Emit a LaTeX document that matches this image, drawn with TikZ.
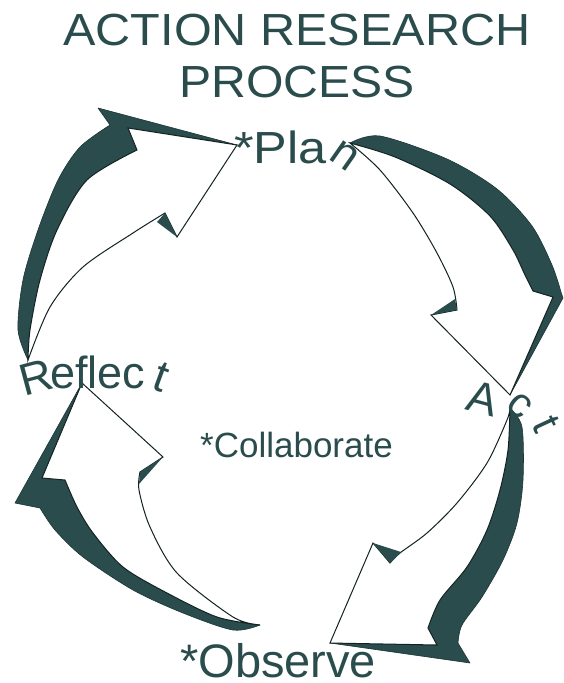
\documentclass[tikz,border=0pt]{standalone}
\usepackage{fontspec}
\setmainfont{Liberation Sans}
\usetikzlibrary{positioning}
\definecolor{Slate}{RGB}{42,76,76}

\begin{document}
\begin{tikzpicture}[x=1pt, y=-1pt,
    side/.style={fill=Slate, draw=Slate!70!black, line width=0.6pt, line join=round},
    face/.style={fill=white, draw=Slate!45!black, line width=1pt, line join=miter},
    word/.style={text=Slate, inner sep=0pt, font=\fontsize{45}{50}\selectfont}]
  \useasboundingbox (0,0) rectangle (563,683);

  % Reflect -> Plan
  \filldraw[side] plot[smooth] coordinates {(28,360) (18,330) (23,280) (38,230) (58,180) (80,147) (110,125)}
    -- (98,108) -- (237,145) -- (128,128) -- (137,150)
    -- plot[smooth] coordinates {(137,150) (87,180) (57,230) (40,280) (30,330) (28,360)} -- cycle;
  \filldraw[face] plot[smooth] coordinates {(28,360) (30,330) (40,280) (57,230) (87,180) (137,150)}
    -- (128,128) -- (237,145) -- (177,237) -- (165,213)
    -- plot[smooth] coordinates {(165,213) (133,233) (83,267) (50,307) (28,360)} -- cycle;
  \fill[Slate] (177,237) -- (165,213) -- (157,222) -- cycle;

  % Plan -> Act
  \filldraw[side] plot[smooth] coordinates {(350,143) (380,136) (447,159) (497,189) (532,226) (552,265) (561,292)}
    -- (563,298) -- (510,395) -- (553,297) -- (533,291)
    -- plot[smooth] coordinates {(533,291) (525,275) (513,250) (490,216) (450,184) (395,157) (350,143)} -- cycle;
  \filldraw[face] plot[smooth] coordinates {(350,143) (395,157) (450,184) (490,216) (513,250) (525,275) (533,291)}
    -- (553,297) -- (510,395) -- (431,315) -- (457,310)
    -- plot[smooth] coordinates {(457,310) (453,287) (437,253) (413,213) (380,170) (350,143)} -- cycle;
  \fill[Slate] (431,315) -- (457,310) -- (455,299) -- cycle;

  % Act -> Observe
  \filldraw[side] plot[smooth] coordinates {(510,408) (522,427) (523,480) (517,523) (503,560) (482,597) (462,625) (458,643)}
    -- (470,663) -- (330,643) -- (437,645) -- (428,628)
    -- plot[smooth] coordinates {(428,628) (440,600) (467,567) (487,530) (500,490) (508,450) (510,408)} -- cycle;
  \filldraw[face] plot[smooth] coordinates {(510,408) (508,450) (500,490) (487,530) (467,567) (440,600) (428,628)}
    -- (437,645) -- (330,643) -- (373,543) -- (390,563)
    -- plot[smooth] coordinates {(390,563) (400,553) (427,533) (457,503) (487,463) (507,420) (510,408)} -- cycle;
  \fill[Slate] (373,543) -- (390,563) -- (401,552) -- cycle;

  % Observe -> Reflect
  \filldraw[side] plot[smooth] coordinates {(260,625) (233,630) (183,613) (133,590) (83,557) (55,530) (40,508)}
    -- (15,503) -- (82,383) -- (42,478) -- (65,480)
    -- plot[smooth] coordinates {(65,480) (77,507) (93,533) (123,567) (167,593) (217,617) (260,625)} -- cycle;
  \filldraw[face] plot[smooth] coordinates {(260,625) (217,617) (167,593) (123,567) (93,533) (77,507) (65,480)}
    -- (42,478) -- (82,383) -- (163,457) -- (140,472)
    -- plot[smooth] coordinates {(140,472) (139,490) (150,527) (177,573) (233,617) (260,625)} -- cycle;
  \fill[Slate] (163,457) -- (140,472) -- (139,484) -- cycle;

  % title
  \node[word, anchor=base] (title) at (297,45) {\scalebox{1.08}[1]{ACTION RESEARCH}};
  \node[word, anchor=base] (process) at (297,97) {\scalebox{1.07}[1]{PROCESS}};

  % stage labels
  \node[word, anchor=base west] (plan) at (234,163) {\scalebox{1.12}[1]{*Pla}};
  \node[word, rotate=-35] (plann) at (345,156) {n};

  \node[word, rotate=15] (reflectR) at (36,377) {R};
  \node[word, anchor=base west] (reflect) at (50,388) {eflec};
  \node[word, rotate=-20] (reflectt) at (161,377) {t};

  \node[word, rotate=-15] (actA) at (483,398) {A};
  \node[word, rotate=-40, font=\fontsize{42}{46}\selectfont] (actc) at (520,406) {c};
  \node[word, rotate=-65, font=\fontsize{42}{46}\selectfont] (actt) at (546,424) {t};

  \node[word, anchor=base west, font=\fontsize{47}{50}\selectfont] (observe) at (180,677) {*Observe};

  \node[word, anchor=base west, font=\fontsize{35}{40}\selectfont] (collab) at (200,457) {*Collaborate};
\end{tikzpicture}
\end{document}
